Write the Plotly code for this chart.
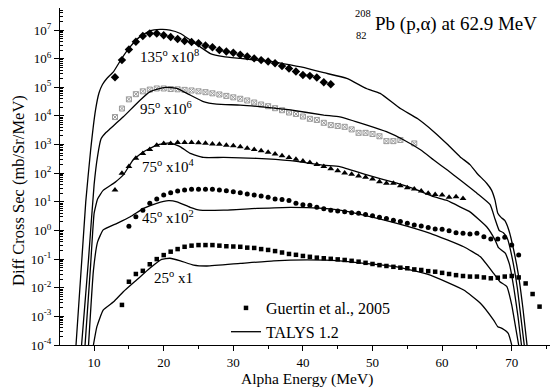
import plotly.graph_objects as go

# ---------------- Experimental data (Guertin et al., 2005) ----------------
# Alpha energies (MeV) and log10 of the plotted (scaled) cross sections
e135 = [13, 14, 15, 16, 17, 18, 19, 20, 21, 22, 23, 24, 25, 26, 27, 28, 29, 30, 31, 32,
        33, 34, 35, 36, 37, 38, 39, 40, 41, 42, 43, 44]
lg135 = [5.35, 5.95, 6.32, 6.59, 6.79, 6.88, 6.88, 6.82, 6.76, 6.69, 6.62, 6.58, 6.54, 6.46,
         6.40, 6.30, 6.25, 6.21, 6.14, 6.08, 6.01, 5.95, 5.90, 5.84, 5.74, 5.66, 5.55, 5.43,
         5.40, 5.34, 5.18, 5.11]

e95 = [13, 14, 15, 16, 17, 18, 19, 20, 21, 22, 23, 24, 25, 26, 27, 28, 29, 30, 31, 32, 33,
       34, 35, 36, 37, 38, 39, 40, 41, 42, 43, 44, 45, 46, 47, 48, 49, 50, 51, 52, 53, 54, 56]
lg95 = [3.96, 4.26, 4.58, 4.76, 4.86, 4.92, 4.96, 4.96, 4.94, 4.93, 4.91, 4.89, 4.86, 4.83,
        4.79, 4.75, 4.70, 4.65, 4.60, 4.54, 4.47, 4.40, 4.34, 4.27, 4.20, 4.12, 4.07, 3.98,
        3.90, 3.86, 3.76, 3.68, 3.65, 3.62, 3.53, 3.41, 3.41, 3.37, 3.29, 3.12, 3.12, 3.16, 3.04]

e75 = [13, 14, 15, 16, 17, 18, 19, 20, 21, 22, 23, 24, 25, 26, 27, 28, 29, 30, 31, 32, 33,
       34, 35, 36, 37, 38, 39, 40, 41, 42, 43, 44, 45, 46, 47, 48, 49, 50, 51, 52, 53, 54,
       55, 56, 57, 58, 59, 60, 61, 62, 63]
lg75 = [1.41, 2.00, 2.23, 2.52, 2.69, 2.83, 2.98, 3.04, 3.04, 3.07, 3.07, 3.07, 3.06, 3.05,
        3.02, 3.01, 2.98, 2.96, 2.92, 2.87, 2.83, 2.78, 2.73, 2.67, 2.61, 2.55, 2.49, 2.43,
        2.37, 2.30, 2.23, 2.16, 2.09, 2.01, 1.96, 1.90, 1.86, 1.80, 1.70, 1.65, 1.65, 1.56,
        1.49, 1.45, 1.38, 1.30, 1.26, 1.24, 1.16, 1.18, 1.12]

e45 = [15, 16, 17, 18, 19, 20, 21, 22, 23, 24, 25, 26, 27, 28, 29, 30, 31, 32, 33, 34, 35,
       36, 37, 38, 39, 40, 41, 42, 43, 44, 45, 46, 47, 48, 49, 50, 51, 52, 53, 54, 55, 56,
       57, 58, 59, 60, 61, 62, 63, 64, 65, 66, 67, 68, 69, 70, 71]
lg45 = [0.15, 0.48, 0.71, 0.95, 1.10, 1.24, 1.32, 1.38, 1.41, 1.44, 1.44, 1.44, 1.44, 1.41,
        1.39, 1.35, 1.32, 1.27, 1.24, 1.20, 1.16, 1.10, 1.08, 1.05, 0.95, 0.90, 0.88, 0.81,
        0.76, 0.71, 0.68, 0.65, 0.62, 0.60, 0.56, 0.51, 0.46, 0.42, 0.36, 0.31, 0.25, 0.19,
        0.16, 0.10, 0.05, 0.04, -0.01, -0.08, -0.10, -0.12, -0.10, -0.22, -0.30, -0.30,
        -0.24, -0.51, -0.86]

e25 = [14, 15, 16, 17, 18, 19, 20, 21, 22, 23, 24, 25, 26, 27, 28, 29, 30, 31, 32, 33, 34,
       35, 36, 37, 38, 39, 40, 41, 42, 43, 44, 45, 46, 47, 48, 49, 50, 51, 52, 53, 54, 55,
       56, 57, 58, 59, 60, 61, 62, 63, 64, 65, 66, 67, 68, 69, 70, 71, 72, 73, 74]
lg25 = [-2.60, -1.79, -1.52, -1.41, -1.18, -1.00, -0.86, -0.74, -0.65, -0.57, -0.53, -0.51,
        -0.51, -0.51, -0.53, -0.55, -0.56, -0.57, -0.60, -0.61, -0.65, -0.68, -0.72, -0.77,
        -0.82, -0.85, -0.89, -0.92, -0.95, -0.97, -0.99, -1.01, -1.03, -1.06, -1.09, -1.13,
        -1.17, -1.21, -1.24, -1.27, -1.30, -1.32, -1.36, -1.38, -1.42, -1.44, -1.48, -1.52,
        -1.56, -1.59, -1.61, -1.61, -1.64, -1.67, -1.65, -1.61, -1.59, -1.64, -1.85, -2.22,
        -2.66]

# ---------------- TALYS 1.2 calculations (log10 of plotted value) ----------------
t135_e = [7.4, 8.8, 9.5, 10.2, 10.7, 11.2, 11.8, 12.8, 14.0, 15.2, 16.6, 18.0, 19.5, 20.9,
          22.4, 23.8, 25.2, 26.7, 28.6, 31.0, 33.4, 35.8, 38.2, 40.6, 43.0, 46.3, 49.2, 51.1,
          54.0, 56.5, 58.8, 60.8, 62.6, 64.0, 65.0, 66.4, 67.1, 67.6, 68.0, 68.5, 69.0, 69.6,
          70.3, 71.0, 71.6, 72.2]
t135_lg = [-4.0, 1.0, 2.8, 4.2, 4.8, 5.1, 5.3, 5.55, 6.02, 6.42, 6.77, 6.97, 7.02, 7.0,
           6.88, 6.65, 6.42, 6.18, 6.07, 6.01, 5.95, 5.89, 5.78, 5.66, 5.51, 5.31, 4.95, 4.79,
           4.26, 3.9, 3.45, 3.0, 2.57, 2.3, 2.0, 1.65, 1.41, 1.06, 0.6, 0.45, 0.35, 0.0,
           -0.7, -1.6, -2.7, -4.0]

t95_e = [8.2, 9.2, 10.0, 10.5, 11.0, 11.7, 12.3, 13.2, 14.2, 16.6, 18.0, 19.5, 20.4, 21.9,
         23.8, 25.7, 27.6, 31.0, 34.8, 38.2, 43.0, 45.3, 49.2, 52.0, 54.5, 57.0, 58.8, 60.8,
         62.6, 65.0, 66.9, 67.6, 68.2, 68.8, 69.4, 70.1, 70.8, 71.3, 71.8]
t95_lg = [-4.0, -1.0, 1.6, 2.6, 3.2, 3.42, 3.55, 3.75, 3.97, 4.55, 4.84, 4.96, 5.0, 4.96,
          4.73, 4.50, 4.41, 4.38, 4.30, 4.21, 4.03, 3.97, 3.68, 3.45, 3.16, 2.8, 2.46, 2.1,
          1.76, 1.30, 0.9, 0.4, 0.0, -0.08, -0.3, -1.0, -2.0, -3.0, -4.0]

t75_e = [8.7, 9.5, 10.0, 10.5, 11.3, 13.0, 14.2, 15.6, 17.1, 19.0, 20.9, 22.4, 23.8, 25.7,
         28.6, 33.4, 38.2, 43.0, 45.3, 49.2, 53.5, 56.0, 58.8, 60.7, 63.0, 64.0, 66.4, 67.6,
         68.1, 68.6, 69.1, 69.7, 70.3, 70.9, 71.4]
t75_lg = [-4.0, -1.2, 0.6, 1.1, 1.4, 1.68, 1.94, 2.46, 2.75, 2.98, 3.06, 2.92, 2.69, 2.55,
          2.55, 2.52, 2.44, 2.28, 2.23, 1.94, 1.65, 1.45, 1.18, 1.05, 0.77, 0.65, 0.13, -0.33,
          -0.6, -0.7, -0.8, -1.2, -2.0, -3.0, -4.0]

t45_e = [9.2, 9.9, 10.5, 11.3, 13.3, 15.2, 17.1, 19.0, 20.7, 21.9, 23.8, 25.2, 28.6, 33.4,
         38.2, 43.0, 45.3, 48.7, 53.5, 58.3, 63.1, 65.5, 67.4, 68.3, 69.3, 70.0, 70.5, 71.0]
t45_lg = [-4.0, -1.4, -0.4, 0.02, 0.25, 0.48, 0.77, 0.95, 1.04, 1.0, 0.81, 0.71, 0.71, 0.77,
          0.81, 0.77, 0.71, 0.54, 0.25, -0.10, -0.57, -0.92, -1.5, -1.79, -1.96, -2.6, -3.3,
          -4.0]

t25_e = [9.9, 10.4, 11.3, 12.8, 14.2, 16.1, 18.0, 19.7, 20.9, 22.4, 24.3, 26.2, 31.0, 35.8,
         40.6, 45.3, 49.0, 53.5, 58.3, 63.1, 65.5, 67.4, 68.0, 68.6, 69.5, 70.0]
t25_lg = [-4.0, -3.36, -2.78, -2.49, -2.14, -1.73, -1.32, -1.01, -0.97, -1.06, -1.21, -1.24,
          -1.15, -1.06, -1.03, -1.06, -1.15, -1.27, -1.56, -2.08, -2.54, -3.13, -3.36, -3.42,
          -3.59, -4.0]

curve_labels = ["135<sup>o</sup> x10<sup>8</sup>", "95<sup>o</sup> x10<sup>6</sup>",
                "75<sup>o</sup> x10<sup>4</sup>", "45<sup>o</sup> x10<sup>2</sup>",
                "25<sup>o</sup> x1"]
y_tick_exps = [-4, -3, -2, -1, 0, 1, 2, 3, 4, 5, 6, 7]


def val(lg):
    return [10 ** v for v in lg]


FONT = "Liberation Serif, Times New Roman, serif"
W, H = 552, 389
L, R, T, B = 60, 2, 8, 44
PW, PH = W - L - R, H - T - B


def px(xp):
    return (xp - L) / PW


def py(yp):
    return (H - B - yp) / PH


fig = go.Figure()

# experimental markers (25 deg first so the legend shows the square symbol)
fig.add_trace(go.Scatter(x=e25, y=val(lg25), mode="markers", name="Guertin et al., 2005",
                         marker=dict(symbol="square", size=4.5, color="black"), showlegend=True))
fig.add_trace(go.Scatter(x=e135, y=val(lg135), mode="markers", showlegend=False,
                         marker=dict(symbol="diamond", size=6.5, color="black")))
fig.add_trace(go.Scatter(x=e95, y=val(lg95), mode="markers", showlegend=False,
                         marker=dict(symbol="square-x-open", size=5, color="#999999",
                                     line=dict(width=1, color="#999999"))))
fig.add_trace(go.Scatter(x=e75, y=val(lg75), mode="markers", showlegend=False,
                         marker=dict(symbol="triangle-up", size=6, color="black")))
fig.add_trace(go.Scatter(x=e45, y=val(lg45), mode="markers", showlegend=False,
                         marker=dict(symbol="circle", size=5, color="black")))

talys = [(t25_e, t25_lg), (t45_e, t45_lg), (t75_e, t75_lg), (t95_e, t95_lg), (t135_e, t135_lg)]
for i, (te, tl) in enumerate(talys):
    fig.add_trace(go.Scatter(x=te, y=val(tl), mode="lines", name="TALYS 1.2",
                             showlegend=(i == 0),
                             line=dict(color="black", width=1.3, shape="spline", smoothing=0.4)))

# invisible trace on an overlaid y axis, so major y ticks cross the axis line
fig.add_trace(go.Scatter(x=[t25_e[0]], y=[10 ** t25_lg[0]], yaxis="y2", mode="markers",
                         marker=dict(size=0.1, opacity=0), showlegend=False, hoverinfo="skip"))


def note(text, xp, yp, size, xanchor="center", angle=0):
    fig.add_annotation(x=px(xp), y=py(yp), xref="paper", yref="paper", text=text,
                       xanchor=xanchor, yanchor="middle", textangle=angle,
                       showarrow=False, font=dict(family=FONT, size=size, color="black"))


# curve labels
label_pos = [(169, 56), (166, 108), (168, 166), (168, 217), (173, 277)]
for txt, (xp, yp) in zip(curve_labels, label_pos):
    note(txt, xp, yp, 15)

# title with stacked mass/atomic numbers
note("Pb (p,\u03b1) at 62.9 MeV", 373, 24, 19, xanchor="left")
note("208", 373, 14, 10.5, xanchor="right")
note("82", 369, 36, 10.5, xanchor="right")

# axis titles
note("Alpha Energy (MeV)", 307, 379, 15.5)
note("Diff Cross Sec (mb/Sr/MeV)", 18, 191, 16.5, angle=-90)

yrange = [-4, 7.77]
fig.update_layout(
    width=W, height=H,
    margin=dict(l=L, r=R, t=T, b=B, pad=0),
    paper_bgcolor="white", plot_bgcolor="white",
    font=dict(family=FONT, size=13, color="black"),
    showlegend=True,
    legend=dict(x=px(226), y=py(291), xanchor="left", yanchor="top",
                bgcolor="rgba(0,0,0,0)", borderwidth=0,
                font=dict(family=FONT, size=16, color="black"),
                tracegroupgap=0, itemwidth=30),
    xaxis=dict(range=[5.1, 75.5], tick0=0, dtick=10, showgrid=False, zeroline=False,
               showline=True, linecolor="black", linewidth=1.2,
               ticks="outside", ticklen=5, tickcolor="black", tickwidth=1.2,
               minor=dict(dtick=5, tick0=0, ticks="outside", ticklen=3, tickcolor="black"),
               tickfont=dict(family=FONT, size=13)),
    yaxis=dict(type="log", range=yrange, showgrid=False, zeroline=False,
               showline=True, linecolor="black", linewidth=1.2,
               tickmode="array", tickvals=[10 ** k for k in y_tick_exps],
               ticktext=["10<sup>%d</sup>" % k for k in y_tick_exps],
               ticks="outside", ticklen=5, tickcolor="black", tickwidth=1.2,
               minor=dict(ticks="inside", ticklen=3, tickcolor="black", dtick="D1"),
               tickfont=dict(family=FONT, size=13)),
    yaxis2=dict(type="log", range=yrange, overlaying="y", side="left", anchor="x",
                showgrid=False, zeroline=False, showline=False, showticklabels=False,
                tickmode="array", tickvals=[10 ** k for k in y_tick_exps],
                ticks="inside", ticklen=4, tickcolor="black", tickwidth=1.2),
)

fig.write_html("out.html")
